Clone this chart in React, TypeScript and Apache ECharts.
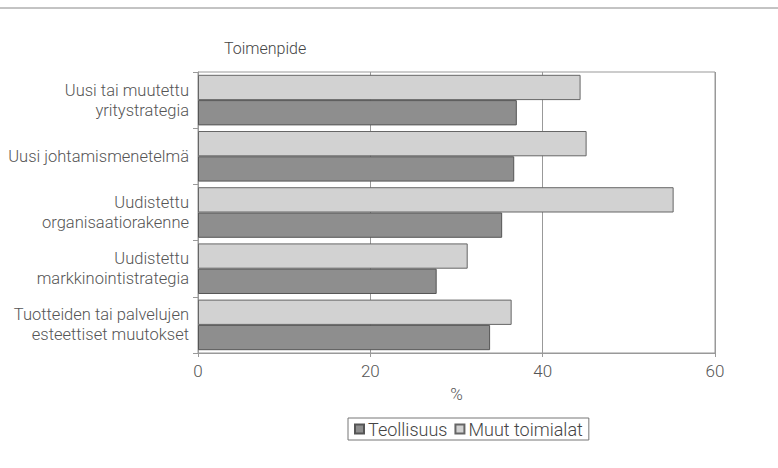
import React, { useEffect, useRef } from "react";
import * as echarts from "echarts";

const categories = [
  "Uusi tai muutettu\nyritystrategia",
  "Uusi johtamismenetelmä",
  "Uudistettu\norganisaatiorakenne",
  "Uudistettu\nmarkkinointistrategia",
  "Tuotteiden tai palvelujen\nesteettiset muutokset",
];
const teollisuus = [37.0, 36.7, 35.3, 27.7, 33.9];
const muutToimialat = [44.4, 45.1, 55.2, 31.3, 36.4];

const FONT = "Roboto, 'DejaVu Sans Condensed', sans-serif";
const TXT = "#555";

export default function App() {
  const ref = useRef<HTMLDivElement>(null);
  useEffect(() => {
    if (!ref.current) return;
    const chart = echarts.init(ref.current, null, { renderer: "svg" });
    chart.setOption({
      animation: false,
      backgroundColor: "#fff",
      textStyle: { fontFamily: FONT, fontWeight: 300 },
      grid: { left: 198, right: 63, top: 72, bottom: 115 },
      legend: {
        data: ["Teollisuus", "Muut toimialat"],
        top: 418,
        left: 348,
        icon: "rect",
        itemWidth: 9,
        itemHeight: 9,
        itemGap: 7,
        borderColor: "#777",
        borderWidth: 1,
        padding: [2, 6, 2, 6],
        textStyle: { fontSize: 18, color: "#444", fontFamily: FONT, fontWeight: 300, padding: [0, 0, 0, -1] },
      },
      xAxis: {
        type: "value",
        min: 0,
        max: 60,
        interval: 20,
        name: "%",
        nameLocation: "middle",
        nameGap: 32,
        nameTextStyle: { fontSize: 17, color: TXT, fontFamily: FONT, fontWeight: 300 },
        axisLine: { show: true, lineStyle: { color: "#999" } },
        axisTick: { show: true, length: 4, lineStyle: { color: "#999" } },
        axisLabel: { fontSize: 17, color: TXT, margin: 9, fontFamily: FONT, fontWeight: 300 },
        splitLine: { show: true, lineStyle: { color: "#999", width: 1 } },
      },
      yAxis: {
        type: "category",
        data: categories,
        inverse: true,
        name: "Toimenpide",
        nameLocation: "start",
        nameGap: 0,
        nameTextStyle: { fontSize: 16, color: "#444", fontFamily: FONT, fontWeight: 300, align: "left", padding: [0, 0, 16, 26] },
        axisLine: { show: true, lineStyle: { color: "#999" } },
        axisTick: { show: true, length: 5, inside: false, lineStyle: { color: "#999" } },
        axisLabel: { fontSize: 16.5, lineHeight: 20, color: TXT, margin: 9, fontFamily: FONT, fontWeight: 300 },
        splitLine: { show: false },
      },
      graphic: [
        {
          type: "line",
          shape: { x1: 0, y1: 8, x2: 778, y2: 8 },
          style: { stroke: "#888", lineWidth: 1 },
        },
        {
          type: "rect",
          shape: { x: 198, y: 72, width: 517, height: 281 },
          style: { fill: "none", stroke: "#999", lineWidth: 1 },
          silent: true,
          z: -1,
        },
      ],
      series: [
        {
          name: "Muut toimialat",
          type: "bar",
          data: muutToimialat,
          barGap: "0%",
          barCategoryGap: "10%",
          itemStyle: { color: "#d2d2d2", borderColor: "#666", borderWidth: 1 },
        },
        {
          name: "Teollisuus",
          type: "bar",
          data: teollisuus,
          barGap: "0%",
          barCategoryGap: "10%",
          itemStyle: { color: "#8e8e8e", borderColor: "#555", borderWidth: 1 },
        },
      ],
    });
    return () => chart.dispose();
  }, []);
  return (
    <div
      ref={ref}
      style={{ position: "fixed", left: 0, top: 0, width: 778, height: 468 }}
    />
  );
}
